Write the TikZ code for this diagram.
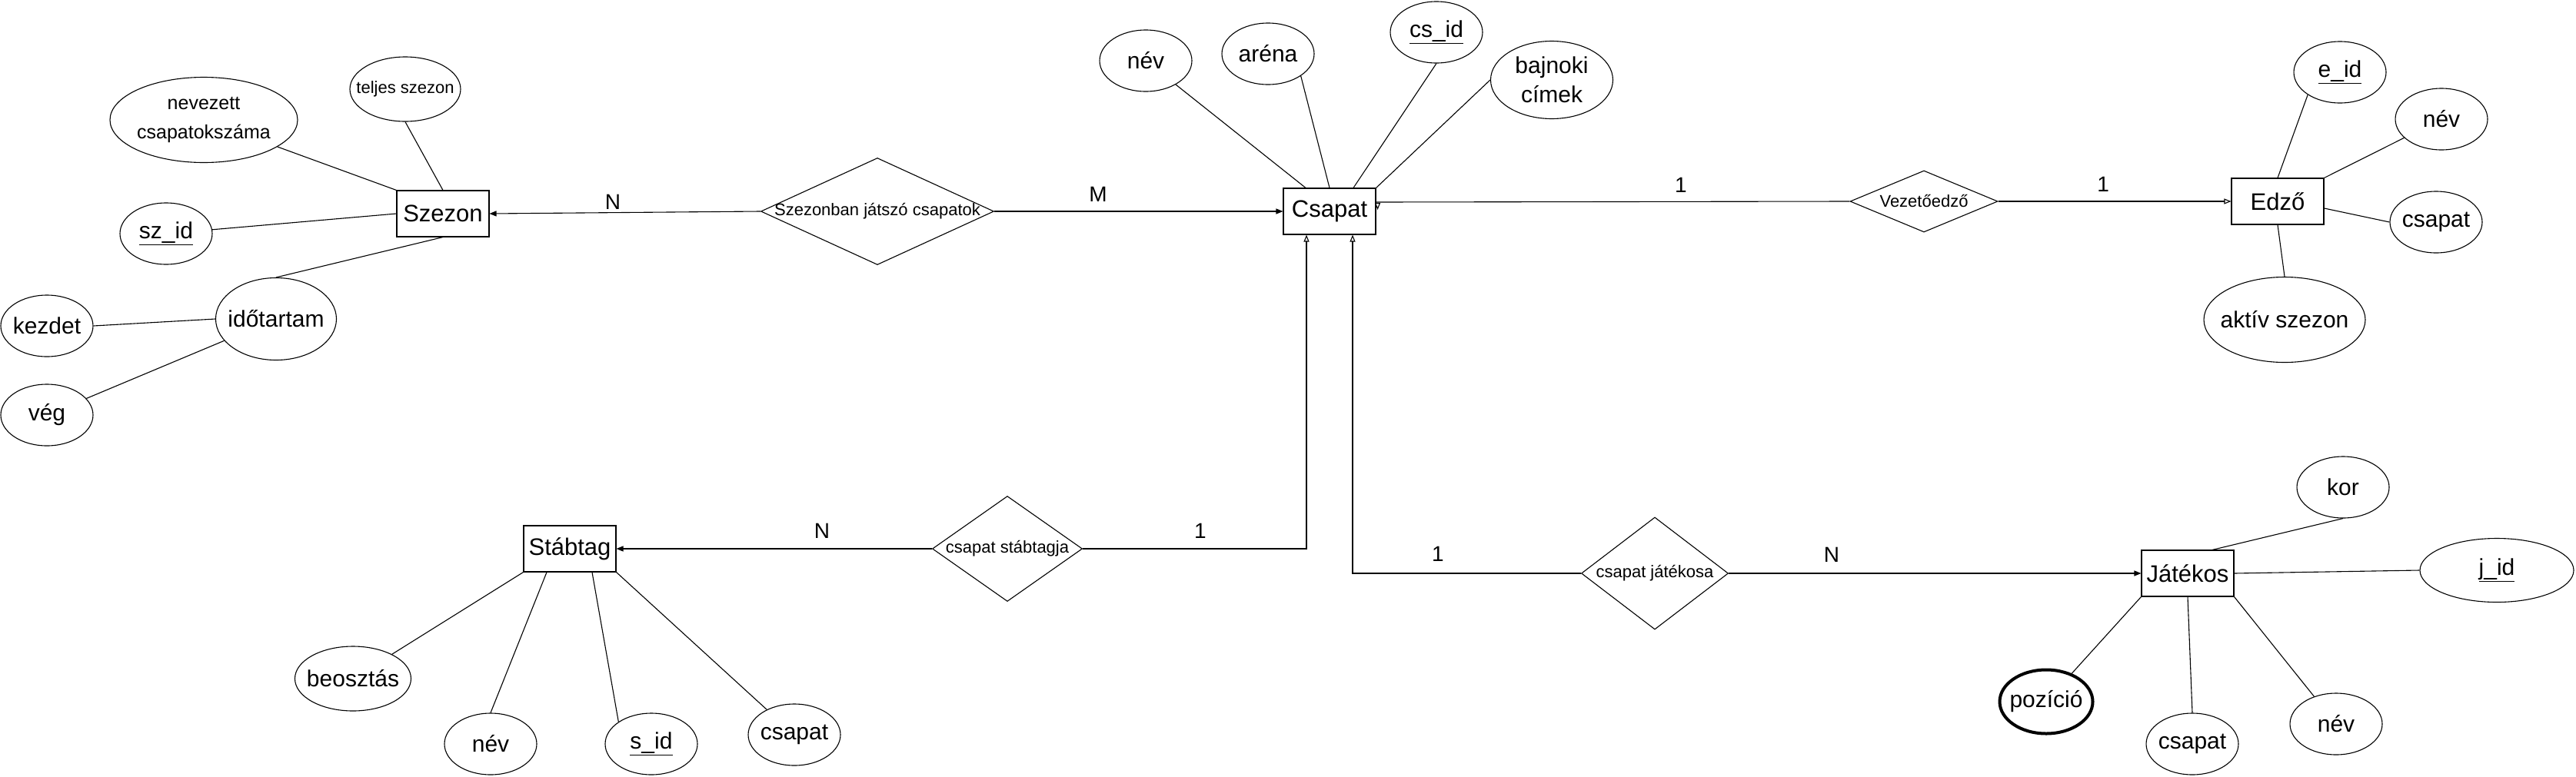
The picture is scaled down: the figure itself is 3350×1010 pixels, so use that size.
\documentclass[tikz,border=0pt]{standalone}
\usepackage{fontspec}
\setmainfont{Liberation Sans}
\usetikzlibrary{arrows.meta,shapes.geometric}

\tikzset{
  entity/.style={draw,line width=1.1pt,minimum width=120pt,minimum height=60pt,inner sep=0pt,font=\fontsize{31}{36}\selectfont},
  attr/.style={draw,ellipse,line width=1.1pt,minimum width=120pt,minimum height=80pt,inner xsep=-20pt,inner ysep=0pt,align=center,font=\fontsize{30}{38}\selectfont},
  rel/.style={draw,diamond,line width=1.1pt,inner xsep=-100pt,inner ysep=0pt,font=\fontsize{22}{26}\selectfont},
  card/.style={font=\fontsize{28}{34}\selectfont},
  link/.style={line width=1.1pt},
  solidtip/.style={link,-{Triangle[length=9pt,width=7pt]}},
  opentip/.style={link,-{Triangle[open,length=9pt,width=7pt]}}
}

\begin{document}
\begin{tikzpicture}[x=1pt,y=-1pt]
  \useasboundingbox (0,0) rectangle (3350,1010);

  % entities
  \node[entity] (szezon) at (576,278) {Szezon};
  \node[entity] (csapat) at (1729,275) {Csapat};
  \node[entity] (edzo) at (2962,262) {Edző};
  \node[entity] (stabtag) at (741,714) {Stábtag};
  \node[entity] (jatekos) at (2845,746) {Játékos};

  % relations
  \node[rel,minimum width=303pt,minimum height=139pt] (szezonban) at (1141,275) {Szezonban játszó csapatok};
  \node[rel,minimum width=192pt,minimum height=80pt] (vezeto) at (2502,262) {Vezetőedző};
  \node[rel,minimum width=195pt,minimum height=137pt] (stabtagja) at (1310,714) {csapat stábtagja};
  \node[rel,minimum width=191pt,minimum height=146pt] (jatekosa) at (2152,746) {csapat játékosa};

  % Szezon attributes
  \node[attr,minimum width=144pt,minimum height=84pt,font=\fontsize{22}{26}\selectfont] (teljes) at (527,116) {teljes szezon};
  \node[attr,minimum width=244pt,minimum height=111pt,font=\fontsize{25}{38}\selectfont] (nevezett) at (265,156) {nevezett\\csapatokszáma};
  \node[attr] (szid) at (216,304) {\underline{sz\_id}};
  \node[attr,minimum width=157pt,minimum height=107pt] (idotartam) at (359,415) {időtartam};
  \node[attr] (kezdet) at (61,424) {kezdet};
  \node[attr] (veg) at (61,540) {vég};

  % Csapat attributes
  \node[attr] (csnev) at (1490,79) {név};
  \node[attr] (arena) at (1649,70) {aréna};
  \node[attr] (csid) at (1868,42) {\underline{cs\_id}};
  \node[attr,minimum width=159pt,minimum height=101pt] (bajnoki) at (2018,104) {bajnoki\\címek};

  % Edző attributes
  \node[attr] (eid) at (3043,94) {\underline{e\_id}};
  \node[attr] (ednev) at (3175,155) {név};
  \node[attr] (edcsapat) at (3168,289) {csapat};
  \node[attr,minimum width=210pt,minimum height=111pt] (aktiv) at (2971,416) {aktív szezon};

  % Stábtag attributes
  \node[attr,minimum width=151pt,minimum height=84pt] (beosztas) at (459,883) {beosztás};
  \node[attr] (stnev) at (638,968) {név};
  \node[attr] (sid) at (847,968) {\underline{s\_id}};
  \node[attr] (stcsapat) at (1033,956) {csapat};

  % Játékos attributes
  \node[attr] (kor) at (3047,634) {kor};
  \node[attr,minimum width=200pt,minimum height=83pt] (jid) at (3247,742) {\underline{j\_id}};
  \node[attr,line width=4pt,minimum width=121pt,minimum height=83pt] (pozicio) at (2661,913) {pozíció};
  \node[attr] (jcsapat) at (2851,968) {csapat};
  \node[attr] (jnev) at (3038,942) {név};

  % cardinalities
  \node[card] (cardSzezonN) at (797,263) {N};
  \node[card] (cardCsapatM) at (1428,253) {M};
  \node[card] (cardVezA) at (2186,241) {1};
  \node[card] (cardVezB) at (2735,240) {1};
  \node[card] (cardStabN) at (1069,691) {N};
  \node[card] (cardStabA) at (1561,691) {1};
  \node[card] (cardJatA) at (1870,721) {1};
  \node[card] (cardJatN) at (2382,722) {N};

  % relation lines
  \draw[solidtip] (szezonban.west) -- (szezon.east);
  \draw[solidtip] (szezonban.east) -- (csapat.west);
  \draw[link] ([yshift=12pt]csapat.east) -- (vezeto.west);
  \draw[opentip] ([xshift=2pt,yshift=10pt]csapat.east) -- ([xshift=2pt,yshift=2pt]csapat.east);
  \draw[opentip] (vezeto.east) -- (edzo.west);
  \draw[solidtip] (stabtagja.west) -- (stabtag.east);
  \draw[opentip] (stabtagja.east) -| ([xshift=-30pt]csapat.south);
  \draw[opentip] (jatekosa.west) -| ([xshift=30pt]csapat.south);
  \draw[solidtip] (jatekosa.east) -- (jatekos.west);

  % attribute lines
  \draw[link] (teljes.south) -- (szezon.north);
  \draw[link] (nevezett) -- (szezon.north west);
  \draw[link] (szid) -- (szezon.west);
  \draw[link] (idotartam.north) -- (szezon.south);
  \draw[link] (kezdet.east) -- (idotartam.west);
  \draw[link] (veg) -- (idotartam);

  \draw[link] (csnev) -- ([xshift=-31pt]csapat.north);
  \draw[link] (arena.326) -- (csapat.north);
  \draw[link] (csid.south) -- ([xshift=31pt]csapat.north);
  \draw[link] (bajnoki.west) -- (csapat.north east);

  \draw[link] (eid.215) -- (edzo.north);
  \draw[link] (ednev) -- (edzo.north east);
  \draw[link] (edcsapat.west) -- ([yshift=-9pt]edzo.east);
  \draw[link] (aktiv.north) -- (edzo.south);

  \draw[link] (beosztas) -- (stabtag.south west);
  \draw[link] (stnev.north) -- ([xshift=-30pt]stabtag.south);
  \draw[link] (sid.146) -- ([xshift=29pt]stabtag.south);
  \draw[link] (stcsapat) -- (stabtag.south east);

  \draw[link] (kor.south) -- ([xshift=32pt]jatekos.north);
  \draw[link] (jid.west) -- (jatekos.east);
  \draw[link] (pozicio) -- (jatekos.south west);
  \draw[link] (jcsapat.north) -- (jatekos.south);
  \draw[link] (jnev) -- (jatekos.south east);
\end{tikzpicture}
\end{document}
